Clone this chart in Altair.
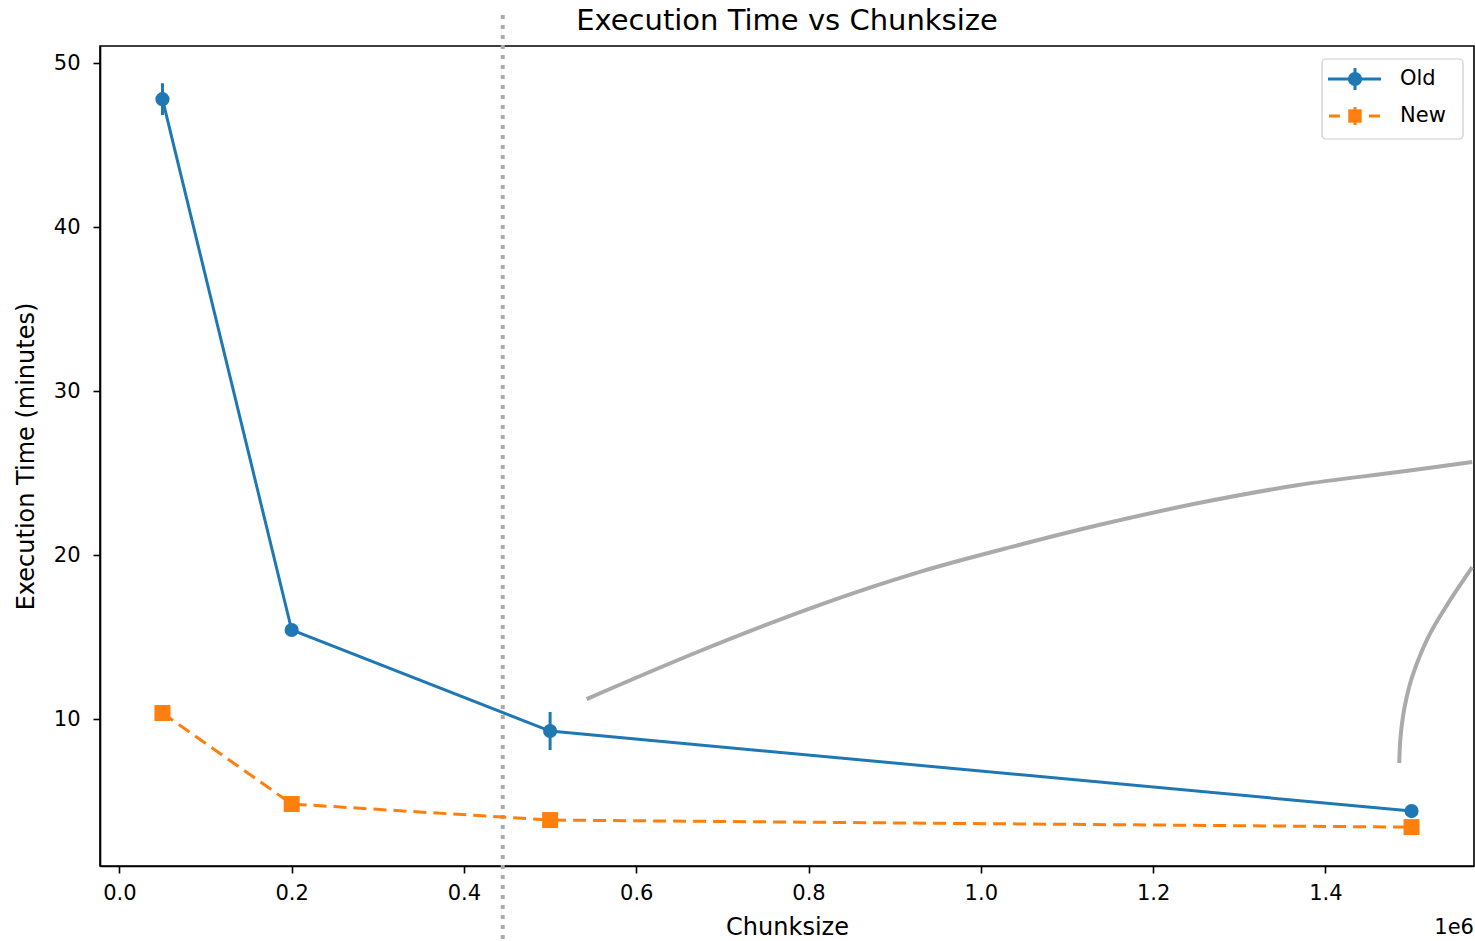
import altair as alt
import pandas as pd

# ---- data ----
chunks = [50000, 200000, 500000, 1500000]
old_time = [47.8, 15.43, 9.27, 4.39]
old_err = [0.97, 0.3, 1.16, 0.2]
new_time = [10.37, 4.82, 3.84, 3.41]
new_err = [0.2, 0.2, 0.15, 0.1]
series_names = ["Old", "New"]
series_colors = ["#1f77b4", "#ff7f0e"]
cut_x = 445000

# grey annotation arcs
arc1_x = [542400, 676800, 812400, 928300, 1044200, 1136900, 1252800, 1368700, 1484600, 1570400]
arc1_y = [11.22, 14.21, 16.95, 18.96, 20.61, 21.83, 23.17, 24.27, 25.06, 25.67]
arc2_x = [1485760, 1486920, 1489930, 1493870, 1500590, 1519370, 1542550, 1565730, 1570360]
arc2_y = [7.32, 8.72, 10.12, 11.22, 12.56, 15.0, 17.07, 18.9, 19.27]

x_ticks = [0, 200000, 400000, 600000, 800000, 1000000, 1200000, 1400000]
y_ticks = [10, 20, 30, 40, 50]
title_text = "Execution Time vs Chunksize"
offset_label = "1e6"

FONT = "DejaVu Sans"

rows = []
for s, ys, es in [("Old", old_time, old_err), ("New", new_time, new_err)]:
    for c, v, e in zip(chunks, ys, es):
        rows.append({"series": s, "chunk": c, "time": v, "lo": v - e, "hi": v + e})
df = pd.DataFrame(rows)

arcs = pd.DataFrame(
    [{"arc": "a1", "order": i, "x": x, "y": y} for i, (x, y) in enumerate(zip(arc1_x, arc1_y))]
    + [{"arc": "a2", "order": i, "x": x, "y": y} for i, (x, y) in enumerate(zip(arc2_x, arc2_y))]
)

xscale = alt.Scale(domain=[-22500, 1572500], nice=False, zero=False)
yscale = alt.Scale(domain=[1.04, 51.04], nice=False, zero=False)

x_enc = alt.X(
    "chunk:Q",
    scale=xscale,
    axis=alt.Axis(
        values=x_ticks,
        labelExpr="format(datum.value / 1000000, '.1f')",
        title="Chunksize",
        titlePadding=12,
        labelPadding=9,
    ),
)
y_enc = alt.Y(
    "time:Q",
    scale=yscale,
    axis=alt.Axis(values=y_ticks, title="Execution Time (minutes)", titlePadding=15, labelPadding=13),
)

base = alt.Chart(df)

cut = alt.Chart(pd.DataFrame({"chunk": [cut_x]})).mark_rule(
    color="#aaaaaa", strokeWidth=4, strokeDash=[4, 6], clip=False
).encode(x=alt.X("chunk:Q", scale=xscale), y=alt.value(-31), y2=alt.value(900))

arc_layer = alt.Chart(arcs).mark_line(
    color="#aaaaaa", strokeWidth=4, interpolate="catmull-rom"
).encode(
    x=alt.X("x:Q", scale=xscale),
    y=alt.Y("y:Q", scale=yscale),
    detail="arc:N",
    order="order:Q",
)

line_old = base.transform_filter(alt.datum.series == "Old").mark_line(
    color=series_colors[0], strokeWidth=3
).encode(x=x_enc, y=y_enc)
line_new = base.transform_filter(alt.datum.series == "New").mark_line(
    color=series_colors[1], strokeWidth=3, strokeDash=[13, 7]
).encode(x=x_enc, y=y_enc)

err = base.mark_rule(strokeWidth=3).encode(
    x=x_enc,
    y=alt.Y("lo:Q", scale=yscale),
    y2="hi:Q",
    color=alt.Color("series:N", scale=alt.Scale(domain=series_names, range=series_colors), legend=None),
)

pts_old = base.transform_filter(alt.datum.series == "Old").mark_point(
    filled=True, shape="circle", size=200, opacity=1, color=series_colors[0]
).encode(x=x_enc, y=y_enc)
pts_new = base.transform_filter(alt.datum.series == "New").mark_point(
    filled=True, shape="square", size=256, opacity=1, color=series_colors[1]
).encode(x=x_enc, y=y_enc)

# ---- hand-built matplotlib-style legend (upper right) ----
one = alt.Chart(pd.DataFrame({"k": [0]}))
leg_box = one.mark_rect(
    fill="white", fillOpacity=0.8, stroke="#cccccc", strokeWidth=1.2, cornerRadius=4
).encode(x=alt.value(1222), x2=alt.value(1363), y=alt.value(13), y2=alt.value(93))

leg_old_line = one.mark_rule(color=series_colors[0], strokeWidth=3).encode(
    x=alt.value(1228), x2=alt.value(1281), y=alt.value(33))
leg_old_err = one.mark_rule(color=series_colors[0], strokeWidth=3).encode(
    x=alt.value(1255), y=alt.value(22), y2=alt.value(44))
leg_old_pt = one.mark_point(filled=True, shape="circle", size=200, opacity=1,
                            color=series_colors[0]).encode(x=alt.value(1255), y=alt.value(33))

leg_new_d1 = one.mark_rule(color=series_colors[1], strokeWidth=3).encode(
    x=alt.value(1229), x2=alt.value(1240), y=alt.value(70))
leg_new_d2 = one.mark_rule(color=series_colors[1], strokeWidth=3).encode(
    x=alt.value(1269), x2=alt.value(1280), y=alt.value(70))
leg_new_err = one.mark_rule(color=series_colors[1], strokeWidth=3).encode(
    x=alt.value(1255), y=alt.value(61), y2=alt.value(79))
leg_new_pt = one.mark_point(filled=True, shape="square", size=180, opacity=1,
                            color=series_colors[1]).encode(x=alt.value(1255), y=alt.value(70))

leg_label_old = alt.Chart(pd.DataFrame({"series": [series_names[0]]})).mark_text(
    align="left", baseline="middle", fontSize=21, font=FONT, color="black"
).encode(text="series:N", x=alt.value(1300), y=alt.value(33))
leg_label_new = alt.Chart(pd.DataFrame({"series": [series_names[1]]})).mark_text(
    align="left", baseline="middle", fontSize=21, font=FONT, color="black"
).encode(text="series:N", x=alt.value(1300), y=alt.value(70))

title_layer = alt.Chart(pd.DataFrame({"t": [title_text]})).mark_text(
    align="center", baseline="middle", fontSize=29, font=FONT, color="black"
).encode(text="t:N", x=alt.value(687), y=alt.value(-25))

offset_text = alt.Chart(pd.DataFrame({"t": [offset_label]})).mark_text(
    align="right", baseline="middle", fontSize=21, font=FONT, color="black"
).encode(text="t:N", x=alt.value(1374), y=alt.value(882))

chart = alt.layer(
    cut, arc_layer, line_old, line_new, err, pts_old, pts_new,
    leg_box, leg_old_line, leg_old_err, leg_old_pt,
    leg_new_d1, leg_new_d2, leg_new_err, leg_new_pt, leg_label_old, leg_label_new,
    title_layer, offset_text,
).properties(
    width=1374,
    height=820,
    background="white",
    autosize=alt.AutoSizeParams(type="none"),
    padding={"left": 100, "top": 46, "right": 1, "bottom": 75},
).configure_view(
    stroke="black", strokeWidth=1.6
).configure_axis(
    grid=False, domainColor="black", domainWidth=1.6, tickColor="black", tickWidth=1.6,
    tickSize=7, labelFontSize=21, labelFont=FONT, labelColor="black",
    titleFontSize=24, titleFont=FONT, titleFontWeight="normal", titleColor="black",
)

chart.save("out.html", embed_options={"renderer": "svg", "actions": False})
